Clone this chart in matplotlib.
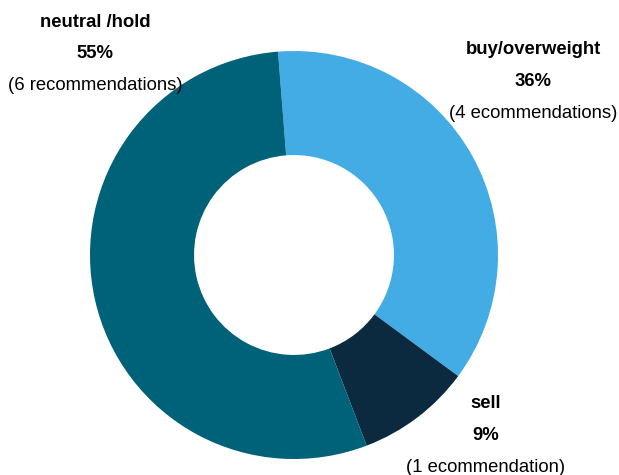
import matplotlib
matplotlib.use("Agg")
import matplotlib.pyplot as plt

plt.rcParams['font.family'] = ['Liberation Sans', 'DejaVu Sans']

# recommendation counts
categories = ["buy/overweight", "sell", "neutral /hold"]
counts = [4, 1, 6]
pct_labels = ["36%", "9%", "55%"]
notes = ["(4 ecommendations)", "(1 ecommendation)", "(6 recommendations)"]
colors = ["#43ACE4", "#0B2A40", "#006279"]

fig = plt.figure(figsize=(6.19, 4.75), dpi=100)
ax = fig.add_axes([90 / 619, 16 / 475, 408 / 619, 408 / 475])

ax.pie(counts, colors=colors, startangle=94.5, counterclock=False,
       radius=1.0, wedgeprops=dict(width=0.51, linewidth=0))
ax.set_xlim(-1, 1)
ax.set_ylim(-1, 1)
ax.axis("off")

# label blocks: (x, y of the first line) in data units
label_pos = [(1.172, 1.005), (0.941, -0.730), (-0.975, 1.142)]
step = 0.155
fs = 13.3
for (x, y), name, pct, note in zip(label_pos, categories, pct_labels, notes):
    ax.text(x, y, name, ha="center", va="center", fontsize=fs, fontweight="bold")
    ax.text(x, y - step, pct, ha="center", va="center", fontsize=fs, fontweight="bold")
    ax.text(x, y - 2 * step, note, ha="center", va="center", fontsize=fs)

fig.savefig("out.png", dpi=100)
